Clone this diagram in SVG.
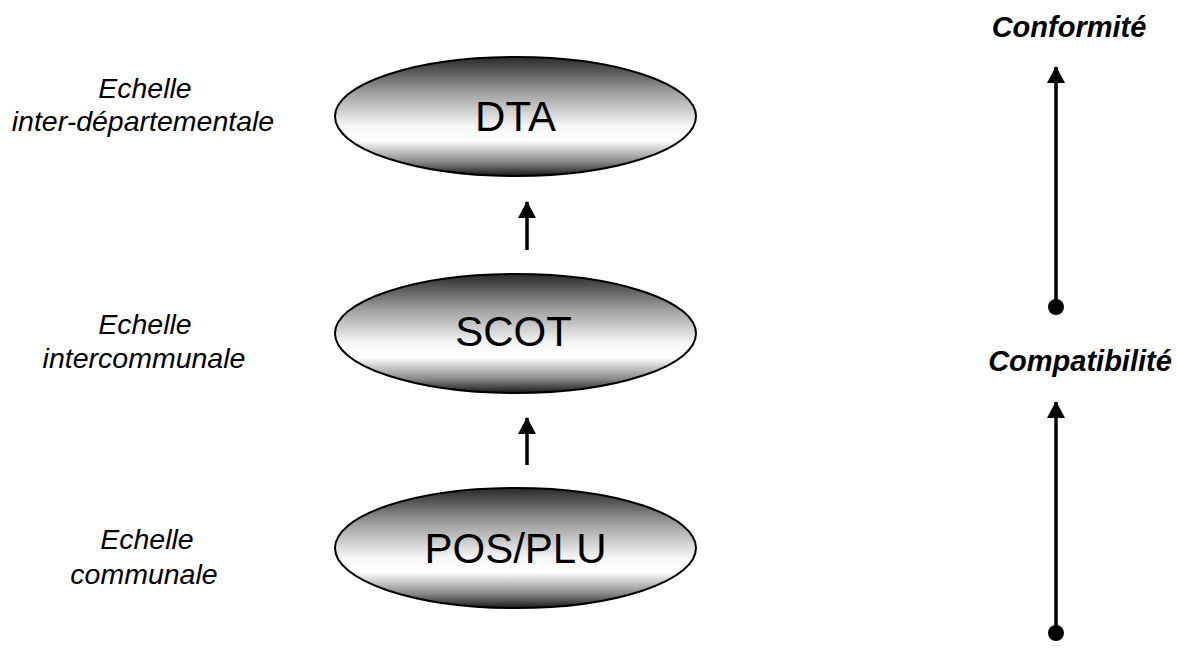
<svg xmlns="http://www.w3.org/2000/svg" width="1177" height="653" viewBox="0 0 1177 653">
<style>
.lbl{font-family:"Liberation Sans",Arial,sans-serif;font-style:italic;font-size:28.5px;fill:#000;text-anchor:middle}
.bl{font-family:"Liberation Sans",Arial,sans-serif;font-style:italic;font-weight:bold;font-size:29px;fill:#000;text-anchor:middle}
.nt{font-family:"Liberation Sans",Arial,sans-serif;font-size:42px;fill:#000;text-anchor:middle}
.ell{fill:url(#g);stroke:#000;stroke-width:2}
.ln{stroke:#000;stroke-width:3.5;fill:none}
</style>
<defs>
<linearGradient id="g" x1="0" y1="0" x2="0" y2="1">
<stop offset="0" stop-color="#2a2a2a"/>
<stop offset="0.3" stop-color="#a0a0a0"/>
<stop offset="0.58" stop-color="#f6f6f6"/>
<stop offset="0.7" stop-color="#ffffff"/>
<stop offset="0.88" stop-color="#8a8a8a"/>
<stop offset="1" stop-color="#1a1a1a"/>
</linearGradient>
<marker id="ah" viewBox="0 0 17 18" refX="16" refY="9" markerWidth="17" markerHeight="18" orient="auto" markerUnits="userSpaceOnUse">
<path d="M0,0 L17,9 L0,18 z" fill="#000"/>
</marker>
</defs>
<rect width="1177" height="653" fill="#fff"/>
<g id="node-dta">
<ellipse class="ell" cx="515.5" cy="116.5" rx="180.5" ry="59.5"/>
<text class="nt" x="515.5" y="131">DTA</text>
</g>
<g id="node-scot">
<ellipse class="ell" cx="515.5" cy="333.5" rx="180.5" ry="59.5"/>
<text class="nt" x="513.5" y="346">SCOT</text>
</g>
<g id="node-pos">
<ellipse class="ell" cx="515.5" cy="548" rx="180.5" ry="60"/>
<text class="nt" x="515.5" y="563">POS/PLU</text>
</g>
<g id="labels">
<text class="lbl" x="145" y="98">Echelle</text>
<text class="lbl" x="143" y="131">inter-départementale</text>
<text class="lbl" x="145" y="334">Echelle</text>
<text class="lbl" x="144" y="368">intercommunale</text>
<text class="lbl" x="147" y="549">Echelle</text>
<text class="lbl" x="144" y="584">communale</text>
<text class="bl" x="1069" y="37">Conformité</text>
<text class="bl" x="1080" y="371">Compatibilité</text>
</g>
<g id="connectors">
<line class="ln" x1="527" y1="250" x2="527" y2="202" marker-end="url(#ah)"/>
<line class="ln" x1="527" y1="465" x2="527" y2="418" marker-end="url(#ah)"/>
<line class="ln" x1="1056" y1="307" x2="1056" y2="67" marker-end="url(#ah)"/>
<circle cx="1056" cy="307" r="8" fill="#000"/>
<line class="ln" x1="1056" y1="633" x2="1056" y2="402" marker-end="url(#ah)"/>
<circle cx="1056" cy="633" r="8" fill="#000"/>
</g>
</svg>
